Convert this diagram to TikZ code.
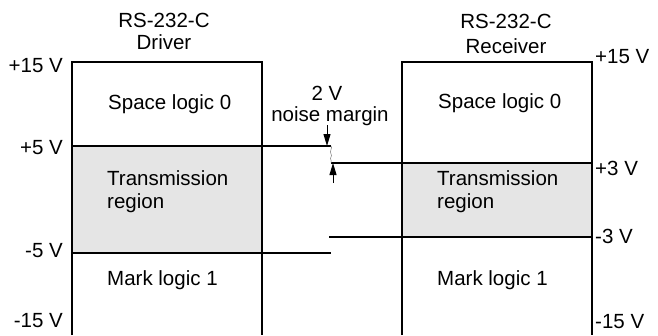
\documentclass[tikz,border=0pt]{standalone}
\usepackage{fontspec}
\setmainfont{Liberation Sans}
\usetikzlibrary{arrows.meta, positioning}
\definecolor{regionfill}{HTML}{E5E5E5}

\begin{document}
\begin{tikzpicture}[x=1pt, y=-1pt, >={Triangle[length=12pt, width=7pt]},
  font=\fontsize{20.5}{24}\selectfont,
  level/.style={line width=1.8pt},
  txt/.style={inner sep=0pt}]
  \useasboundingbox (0,0) rectangle (658,335);
  % Prechodova oblast
  \fill[regionfill] (72,146) rectangle (262,253);
  \fill[regionfill] (402,163) rectangle (592,237);
  % Body
  \coordinate (dbl) at (72,335);  \coordinate (dtl) at (72,62);
  \coordinate (dtr) at (262,62);  \coordinate (dbr) at (262,335);
  \coordinate (rbl) at (402,335); \coordinate (rtl) at (402,62);
  \coordinate (rtr) at (592,62);  \coordinate (rbr) at (592,335);
  \coordinate (dhi) at (72,146);  \coordinate (dhie) at (331,146);
  \coordinate (dlo) at (72,253);  \coordinate (dloe) at (331,253);
  \coordinate (rhis) at (331,163); \coordinate (rhi) at (592,163);
  \coordinate (rlos) at (329,237); \coordinate (rlo) at (592,237);
  % Vysilac a prijimac
  \draw[level] (dbl) -- (dtl) -- (dtr) -- (dbr);
  \draw[level] (rbl) -- (rtl) -- (rtr) -- (rbr);
  \draw[level] (dhi) -- (dhie);
  \draw[level] (dlo) -- (dloe);
  \draw[level] (rhis) -- (rhi);
  \draw[level] (rlos) -- (rlo);
  % Popisy
  \node[txt, anchor=base] (drvA) at (164,27) {RS-232-C};
  \node[txt, anchor=base] (drvB) at (164,49) {Driver};
  \node[txt, anchor=base] (rcvA) at (506,28) {RS-232-C};
  \node[txt, anchor=base] (rcvB) at (506,53) {Receiver};
  % Napeti
  \node[txt, anchor=east] (v15d) at (63,66) {+15 V};
  \node[txt, anchor=east] (v5d) at (63,148) {+5 V};
  \node[txt, anchor=east] (vm5d) at (63,251) {-5 V};
  \node[txt, anchor=east] (vm15d) at (63,321) {-15 V};
  \node[txt, anchor=west] (v15r) at (595,57) {+15 V};
  \node[txt, anchor=west] (v3r) at (595,168) {+3 V};
  \node[txt, anchor=west] (vm3r) at (595,236) {-3 V};
  \node[txt, anchor=west] (vm15r) at (595,322) {-15 V};
  % Logicke urovne
  \node[txt, anchor=base west] (spD) at (108,109) {Space logic 0};
  \node[txt, anchor=base west] (trD) at (107,185) {Transmission};
  \node[txt, anchor=base west] (rgD) at (107,208) {region};
  \node[txt, anchor=base west] (mkD) at (107,285) {Mark logic 1};
  \node[txt, anchor=base west] (spR) at (438,108) {Space logic 0};
  \node[txt, anchor=base west] (trR) at (437,185) {Transmission};
  \node[txt, anchor=base west] (rgR) at (437,208) {region};
  \node[txt, anchor=base west] (mkR) at (437,285) {Mark logic 1};
  % Odstup od sumu
  \node[txt, anchor=base] (nmA) at (327,100) {2 V};
  \node[txt, anchor=base] (nmB) at (330,121) {noise margin};
  \coordinate (aTop) at (327,125);
  \coordinate (aBot) at (333,183);
  \draw[->, line width=1pt] (aTop) -- (327,146);
  \draw[->, line width=1pt] (aBot) -- (333,163);
  \draw[gray, line width=0.5pt] (dhie) .. controls (333,148) and (329,151) .. (331,154)
    .. controls (333,156) and (329,158) .. (331,160) -- (rhis);
\end{tikzpicture}
\end{document}
